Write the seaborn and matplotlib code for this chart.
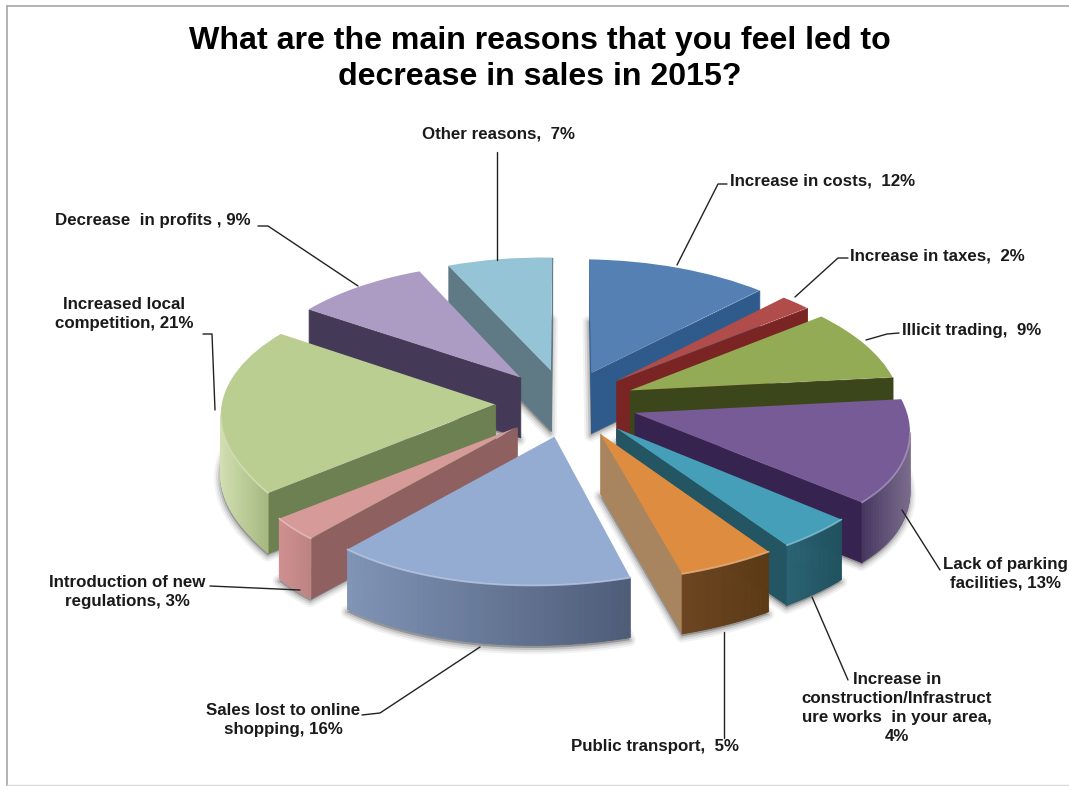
import numpy as np
import matplotlib
matplotlib.use("Agg")
import matplotlib.pyplot as plt
import seaborn as sns
from matplotlib.collections import PolyCollection
from matplotlib.colors import to_rgb
from matplotlib.transforms import Transform

# Survey shares, clockwise from twelve o'clock
reasons = ["Increase in costs", "Increase in taxes", "Illicit trading",
           "Lack of parking facilities", "Increase in construction/Infrastructure works",
           "Public transport", "Sales lost to online shopping",
           "Introduction of new regulations", "Increased local competition",
           "Decrease in profits", "Other reasons"]
shares = [12, 2, 9, 13, 4, 5, 16, 3, 21, 9, 7]
pull_out = [0.26] * len(shares)

# Face colours of every slice
top_colors = ["#5480B4", "#B04C49", "#93AB55", "#775B97", "#469FB8", "#DE8C40",
              "#94ABD2", "#D69A98", "#BBCE92", "#AC9CC4", "#96C4D7"]
wall_colors = ["#2F5B8C", "#7A2523", "#3C461B", "#36234F", "#235662", "#A8845F",
               "#5A6A88", "#8E6060", "#6C8052", "#443A58", "#5F7A84"]
rim_left = ["#4A76A8", "#A04340", "#7F9648", "#463660", "#2A6272", "#6C4420",
            "#8094B6", "#D09090", "#D2E0B2", "#8D7DA8", "#86B2C4"]
rim_right = ["#2F5B8C", "#7A2523", "#3C461B", "#7A6C8C", "#205260", "#5C3A16",
             "#4E5C78", "#BC8482", "#9AAE72", "#6C5C88", "#6C96A8"]

title_text = "What are the main reasons that you feel led to\ndecrease in sales in 2015?"
label_text = ["Increase in costs,  12%", "Increase in taxes,  2%", "Illicit trading,  9%",
              "Lack of parking\nfacilities, 13%",
              "Increase in\nconstruction/Infrastruct\nure works  in your area,\n4%",
              "Public transport,  5%", "Sales lost to online\nshopping, 16%",
              "Introduction of new\nregulations, 3%", "Increased local\ncompetition, 21%",
              "Decrease  in profits , 9%", "Other reasons,  7%"]

# Label anchors and leader routes, in canvas pixels
label_xy = [(730, 181, "left"), (850, 256, "left"), (902, 330, "left"),
            (1005, 574, "center"), (897, 708, "center"), (655, 746, "center"),
            (283, 720, "center"), (127, 592, "center"), (124, 314, "center"),
            (55, 220, "left"), (499, 134, "center")]
leaders = [[(727, 184), (718, 184), (677, 265)], [(848, 258), (838, 258), (795, 297)],
           [(899, 333), (887, 334), (866, 340)], [(940, 570), (902, 510)],
           [(848, 680), (812, 597)], [(724, 738), (724, 632)],
           [(362, 715), (380, 713), (480, 647)], [(210, 586), (300, 590)],
           [(203, 334), (212, 334), (215, 410)], [(258, 226), (268, 226), (358, 286)],
           [(497, 152), (497, 260)]]

WIDTH, HEIGHT = 1069, 786
CX, CY, RX, RY, DIST, DEPTH = 566, 403, 272, 129, 11.0, 60
FRONT_DRIFT, ROLL = 44, 0.016


class GroundPlane(Transform):
    """Perspective view of the pie's plane, with an optional drop below it."""
    input_dims = output_dims = 2
    is_affine = False
    has_inverse = False

    def __init__(self, drop=0.0):
        super().__init__()
        self.drop = drop

    def transform_non_affine(self, values):
        values = np.asarray(values, dtype=float)
        f = DIST / (DIST + values[:, 1])
        # Nearest part of the pie leans to the left of the view axis
        u = -values[:, 1] - 0.58
        drift = FRONT_DRIFT * (np.sqrt(u * u + 0.01) + u) / 2 * (1 - 0.2 * values[:, 0])
        sx = RX * values[:, 0] * f - drift
        # The camera is rolled slightly, so the right side sits lower
        sy = -RY * values[:, 1] * f + ROLL * sx + self.drop
        return np.column_stack([CX + sx, CY + sy])


def mix(a, b, t):
    a, b = np.array(to_rgb(a)), np.array(to_rgb(b))
    return tuple(a + (b - a) * t)


def signed_area(q):
    x, y = q[:, 0], q[:, 1]
    return 0.5 * np.sum(x * np.roll(y, -1) - np.roll(x, -1) * y)


sns.set_theme(style="white", font="Liberation Sans")
fig = plt.figure(figsize=(WIDTH / 100, HEIGHT / 100), dpi=100, facecolor="white")
ax = fig.add_axes([0, 0, 1, 1])
wedges, _ = ax.pie(shares, explode=pull_out, startangle=90, counterclock=False,
                   colors=sns.color_palette(top_colors), radius=1,
                   wedgeprops=dict(linewidth=0))
ax.set_xlim(0, WIDTH)
ax.set_ylim(HEIGHT, 0)
ax.set_axis_off()

top = GroundPlane()
bottom = GroundPlane(DEPTH)


def arc_points(w, n=48):
    t = np.radians(np.linspace(w.theta1, w.theta2, n))
    cx, cy = w.center
    return np.column_stack([cx + w.r * np.cos(t), cy + w.r * np.sin(t)])


# Back slices are painted first so nearer ones overlap them
depth_key = [arc_points(w).mean(axis=0)[1] + w.center[1] for w in wedges]
order = np.argsort(depth_key)[::-1]

for rank, i in enumerate(order):
    w = wedges[i]
    z = 3 + rank
    arc = arc_points(w)
    apex = np.array([w.center])
    arc_t, arc_b = top.transform(arc), bottom.transform(arc)
    apex_t, apex_b = top.transform(apex), bottom.transform(apex)

    # Soft contact shadow around the foot of the slice
    foot = np.vstack([apex_b, arc_b])
    for lw, alpha in [(9, 0.05), (6, 0.08), (3, 0.12)]:
        ax.add_collection(PolyCollection([foot + (-1, 2)], facecolors=(0, 0, 0, alpha),
                                         edgecolors=(0, 0, 0, alpha), linewidths=lw, zorder=1))

    # Flat walls running to the slice's point; those turned away are skipped
    first = np.array([apex_t[0], arc_t[0], arc_b[0], apex_b[0]])
    last = np.array([arc_t[-1], apex_t[0], apex_b[0], arc_b[-1]])
    ref = signed_area(np.vstack([apex_t, arc_t]))
    for q in (first, last):
        if signed_area(q) * ref < 0:
            ax.add_collection(PolyCollection([q], facecolors=wall_colors[i],
                                             edgecolors=wall_colors[i], linewidths=0.6, zorder=z))

    # Curved outer rim, shaded segment by segment from left to right
    quads, shades = [], []
    xmin, xmax = arc_t[:, 0].min(), arc_t[:, 0].max()
    for k in range(len(arc) - 1):
        q = np.array([arc_t[k], arc_t[k + 1], arc_b[k + 1], arc_b[k]])
        if signed_area(q) * ref < 0:
            quads.append(q)
            shades.append(mix(rim_left[i], rim_right[i],
                              (q[:, 0].mean() - xmin) / max(xmax - xmin, 1)))
    if quads:
        ax.add_collection(PolyCollection(quads, facecolors=shades, edgecolors=shades,
                                         linewidths=0.6, zorder=z + 0.1))
    w.set_transform(top + ax.transData)
    w.set_zorder(z + 0.2)
    if quads:
        rim_edge = np.array([q[0] for q in quads] + [quads[-1][1]])
        ax.plot(rim_edge[:, 0], rim_edge[:, 1], color=mix(top_colors[i], "#FFFFFF", 0.35),
                lw=1.3, alpha=0.8, zorder=z + 0.3, solid_capstyle="round")

# Leaders and labels
for route in leaders:
    xs, ys = zip(*route)
    ax.plot(xs, ys, color="#222222", lw=1.0, zorder=40)
for text, (x, y, ha) in zip(label_text, label_xy):
    ax.text(x, y, text, ha=ha, va="center", ma="center", fontsize=12.2, fontweight="bold",
            color="#1a1a1a", linespacing=1.32, zorder=41, clip_on=False)

ax.text(540, 59, title_text, ha="center", va="center", ma="center", fontsize=23.1,
        fontweight="bold", color="black", linespacing=1.24, zorder=41)

# Chart-area frame
ax.plot([6.5, 6.5], [786, 5.5], color="#A6A6A6", lw=1.2, zorder=42)
ax.plot([6.5, 1069], [5.5, 5.5], color="#A6A6A6", lw=1.2, zorder=42)
ax.plot([6.5, 1069], [785.2, 785.2], color="#D8D8D8", lw=1.0, zorder=42)

fig.savefig("out.png", dpi=100, facecolor="white")
